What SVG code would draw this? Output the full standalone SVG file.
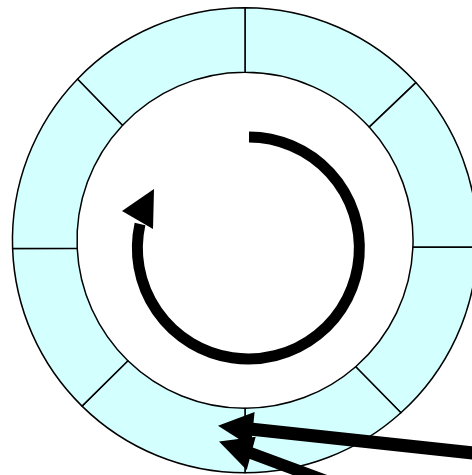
<svg xmlns="http://www.w3.org/2000/svg" width="472" height="475" viewBox="0 0 472 475">
<style>
.seg{fill:#D4FFFF;stroke:#000;stroke-width:1.5;stroke-linejoin:round}
.thick{fill:none;stroke:#000;stroke-linecap:butt}
.head{fill:#000;stroke:none}
</style>
<rect width="472" height="475" fill="#fff"/>
<g id="ring">
<g id="slot1"><path class="seg" d="M245 7.8 A232.5 232.5 0 0 1 415.9 82.6 L369.2 127.1 A168 168 0 0 0 245 72.3 Z"/></g>
<g id="slot2"><path class="seg" d="M415.9 82.6 A232.5 232.5 0 0 1 477.4 247.3 L412.9 247.3 A168 168 0 0 0 369.2 127.1 Z"/></g>
<g id="slot3"><path class="seg" d="M477.4 247.3 A232.5 232.5 0 0 1 400.9 412.8 L355.7 366.7 A168 168 0 0 0 412.9 247.3 Z"/></g>
<g id="slot4"><path class="seg" d="M400.9 412.8 A232.5 232.5 0 0 1 245 472.8 L245 408.3 A168 168 0 0 0 355.7 366.7 Z"/></g>
<g id="slot5"><path class="seg" d="M245 472.8 A232.5 232.5 0 0 1 82 406.1 L127.9 360.7 A168 168 0 0 0 245 408.3 Z"/></g>
<g id="slot6"><path class="seg" d="M82 406.1 A232.5 232.5 0 0 1 12.6 248.4 L77.2 248.2 A168 168 0 0 0 127.9 360.7 Z"/></g>
<g id="slot7"><path class="seg" d="M12.6 248.4 A232.5 232.5 0 0 1 77.6 78.9 L122.6 125.2 A168 168 0 0 0 77.2 248.2 Z"/></g>
<g id="slot8"><path class="seg" d="M77.6 78.9 A232.5 232.5 0 0 1 245 7.8 L245 72.3 A168 168 0 0 0 122.6 125.2 Z"/></g>
</g>
<g id="connectors">
<g id="cycle">
<path class="thick" stroke-width="11" d="M249 137 A111 111 0 1 1 140 224"/>
<polygon class="head" points="154,189 122,211 153,229"/>
</g>
<g id="pointer1">
<line class="thick" stroke-width="13" x1="250" y1="429" x2="520" y2="458"/>
<polygon class="head" points="218,425.7 254.6,411.9 251,446.7"/>
</g>
<g id="pointer2">
<line class="thick" stroke-width="12" x1="248" y1="452" x2="380" y2="501"/>
<polygon class="head" points="219,441.5 255.7,436.7 246.7,470"/>
</g>
</g>
</svg>
